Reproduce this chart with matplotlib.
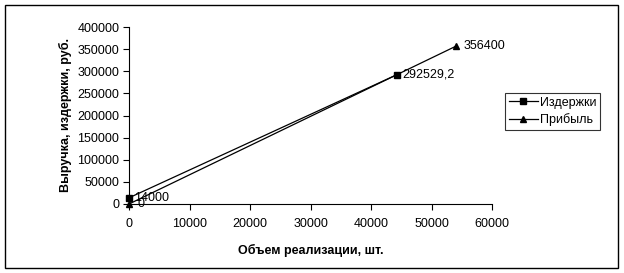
import matplotlib.pyplot as plt
from matplotlib.patches import Rectangle

plt.rcParams["font.family"] = ["Liberation Sans", "DejaVu Sans"]

# data
cost_x = [0, 44322.6]
cost_y = [14000, 292529.2]
profit_x = [0, 54000]
profit_y = [0, 356400]
cost_labels = ["14000", "292529,2"]
profit_labels = ["0", "356400"]

x_ticks = [0, 10000, 20000, 30000, 40000, 50000, 60000]
y_ticks = [0, 50000, 100000, 150000, 200000, 250000, 300000, 350000, 400000]

fig = plt.figure(figsize=(6.24, 2.73), dpi=100)
ax = fig.add_axes([129 / 624, 1 - 204 / 273, (492 - 129) / 624, (204 - 27) / 273])

ax.plot(cost_x, cost_y, color="black", lw=0.9, marker="s", ms=4.2, label="Издержки", clip_on=False)
ax.plot(profit_x, profit_y, color="black", lw=0.9, marker="^", ms=4.8, label="Прибыль", clip_on=False)

# value labels next to points
for x, y, s in zip(cost_x, cost_y, cost_labels):
    ax.annotate(s, (x, y), xytext=(4, 0), textcoords="offset points",
                va="center", ha="left", fontsize=9)
for x, y, s in zip(profit_x, profit_y, profit_labels):
    ax.annotate(s, (x, y), xytext=(6, 0), textcoords="offset points",
                va="center", ha="left", fontsize=9)

ax.set_xlim(0, 60000)
ax.set_ylim(0, 400000)
ax.set_xticks(x_ticks)
ax.set_yticks(y_ticks)
ax.set_xticklabels([str(t) for t in x_ticks], fontsize=9)
ax.set_yticklabels([str(t) for t in y_ticks], fontsize=9)
ax.tick_params(direction="out", length=4, width=0.8, pad=3)
ax.tick_params(axis="x", pad=6)

for side in ["top", "right"]:
    ax.spines[side].set_visible(False)
for side in ["left", "bottom"]:
    ax.spines[side].set_linewidth(0.8)

ax.set_xlabel("Объем реализации, шт.", fontsize=9, fontweight="bold", labelpad=10)
ax.set_ylabel("Выручка, издержки, руб.", fontsize=9, fontweight="bold", labelpad=4)

leg = fig.legend(loc="upper left", bbox_to_anchor=(505 / 624, 1 - 93 / 273),
                 fontsize=9, frameon=True, fancybox=False, edgecolor="black",
                 borderpad=0.3, handlelength=2.3, handletextpad=0.2,
                 labelspacing=0.35, borderaxespad=0)
leg.get_frame().set_linewidth(0.8)

# outer chart border
fig.patches.append(Rectangle((5 / 624, 1 - 268 / 273), 613 / 624, 263 / 273,
                             transform=fig.transFigure, fill=False,
                             edgecolor="black", lw=1))

fig.savefig("out.png", dpi=100)
